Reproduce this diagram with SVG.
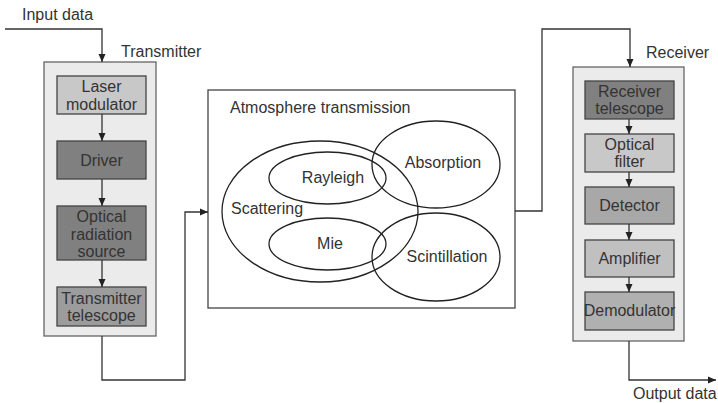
<svg xmlns="http://www.w3.org/2000/svg" width="718" height="403" viewBox="0 0 718 403">
<style>
text{font-family:"Liberation Sans",Arial,sans-serif;font-size:16px;fill:#333}
.c{text-anchor:middle}
.outer{fill:#ebebeb;stroke:#666;stroke-width:1.3}
.blk{stroke:#444;stroke-width:1.3}
.line{fill:none;stroke:#333;stroke-width:1.3}
.ell{fill:none;stroke:#222;stroke-width:1.3}
</style>
<defs>
<marker id="ah" viewBox="0 0 8 8" refX="8" refY="4" markerWidth="8" markerHeight="8" markerUnits="userSpaceOnUse" orient="auto">
<path d="M0,0.5 L8,4 L0,7.5 Z" fill="#222"/>
</marker>
</defs>
<rect width="718" height="403" fill="#fff"/>

<g id="transmitter">
<rect class="outer" x="44" y="62" width="112" height="274"/>
<text x="121" y="57">Transmitter</text>
</g>
<g id="laser-modulator">
<rect class="blk" x="57" y="76" width="89" height="38" fill="#c8c8c8"/>
<text class="c" x="101.5" y="92">Laser</text>
<text class="c" x="101.5" y="110">modulator</text>
</g>
<g id="driver">
<rect class="blk" x="57" y="141" width="89" height="38" fill="#808080"/>
<text class="c" x="101.5" y="166">Driver</text>
</g>
<g id="optical-radiation-source">
<rect class="blk" x="57" y="206" width="89" height="54" fill="#808080"/>
<text class="c" x="101.5" y="222">Optical</text>
<text class="c" x="101.5" y="240">radiation</text>
<text class="c" x="101.5" y="257">source</text>
</g>
<g id="transmitter-telescope">
<rect class="blk" x="57" y="287" width="89" height="39" fill="#9c9c9c"/>
<text class="c" x="101.5" y="304">Transmitter</text>
<text class="c" x="101.5" y="321">telescope</text>
</g>

<g id="atmosphere">
<rect x="208" y="90" width="307" height="218" fill="#fff" stroke="#444" stroke-width="1.3"/>
<text x="230" y="113">Atmosphere transmission</text>
</g>
<g id="scattering">
<ellipse class="ell" cx="320" cy="211.5" rx="98" ry="70.5"/>
<text x="231" y="214">Scattering</text>
</g>
<g id="rayleigh">
<ellipse class="ell" cx="327.5" cy="178" rx="58.5" ry="26"/>
<text class="c" x="333" y="183">Rayleigh</text>
</g>
<g id="mie">
<ellipse class="ell" cx="327.5" cy="244" rx="58.5" ry="26"/>
<text class="c" x="330" y="249">Mie</text>
</g>
<g id="absorption">
<ellipse class="ell" cx="436" cy="164.5" rx="64" ry="43.5"/>
<text class="c" x="443" y="168">Absorption</text>
</g>
<g id="scintillation">
<ellipse class="ell" cx="436" cy="257" rx="64" ry="44"/>
<text class="c" x="447" y="262">Scintillation</text>
</g>

<g id="receiver">
<rect class="outer" x="573" y="67" width="111" height="274"/>
<text x="646" y="58">Receiver</text>
</g>
<g id="receiver-telescope">
<rect class="blk" x="585" y="81" width="89" height="38" fill="#808080"/>
<text class="c" x="629.5" y="97">Receiver</text>
<text class="c" x="629.5" y="114">telescope</text>
</g>
<g id="optical-filter">
<rect class="blk" x="585" y="134" width="89" height="38" fill="#c8c8c8"/>
<text class="c" x="629.5" y="150">Optical</text>
<text class="c" x="629.5" y="167">filter</text>
</g>
<g id="detector">
<rect class="blk" x="585" y="187" width="89" height="37" fill="#a8a8a8"/>
<text class="c" x="629.5" y="211">Detector</text>
</g>
<g id="amplifier">
<rect class="blk" x="585" y="240" width="89" height="37" fill="#c0c0c0"/>
<text class="c" x="629.5" y="264">Amplifier</text>
</g>
<g id="demodulator">
<rect class="blk" x="585" y="292" width="89" height="38" fill="#b0b0b0"/>
<text class="c" x="629.5" y="316">Demodulator</text>
</g>

<g id="labels">
<text x="22" y="20">Input data</text>
<text x="633" y="399">Output data</text>
</g>

<g id="connectors">
<path class="line" d="M5,29 H102 V62" marker-end="url(#ah)"/>
<path class="line" d="M102,114 V141" marker-end="url(#ah)"/>
<path class="line" d="M102,179 V206" marker-end="url(#ah)"/>
<path class="line" d="M102,260 V287" marker-end="url(#ah)"/>
<path class="line" d="M102,336 V380 H185 V212 H208" marker-end="url(#ah)"/>
<path class="line" d="M515,211 H542 V29 H630 V67" marker-end="url(#ah)"/>
<path class="line" d="M629,119 V134" marker-end="url(#ah)"/>
<path class="line" d="M629,172 V187" marker-end="url(#ah)"/>
<path class="line" d="M629,224 V240" marker-end="url(#ah)"/>
<path class="line" d="M629,277 V292" marker-end="url(#ah)"/>
<path class="line" d="M629,341 V380 H716" marker-end="url(#ah)"/>
</g>
</svg>
